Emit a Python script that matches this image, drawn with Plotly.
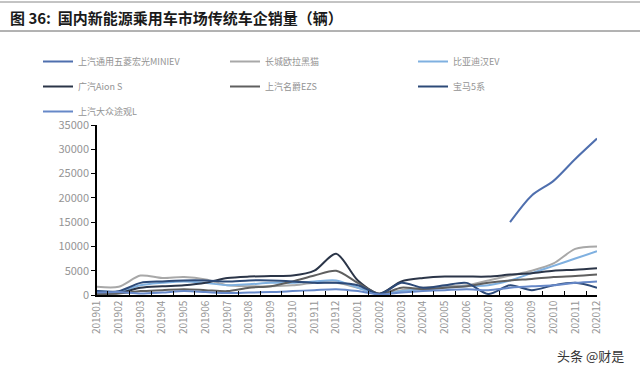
import plotly.graph_objects as go

months = ["201901","201902","201903","201904","201905","201906","201907","201908","201909","201910","201911","201912",
          "202001","202002","202003","202004","202005","202006","202007","202008","202009","202010","202011","202012"]

miniev = [None]*19 + [15000, 20500, 23500, 28000, 32200]
heimao = [1700,1700,4000,3500,3700,3200,2000,1800,1800,2000,2500,2500,1500,200,1000,1500,1800,2000,3000,4000,5000,6500,9500,10000]
han_ev = [800,700,2000,2500,2800,2500,2000,2200,2500,2500,2800,3000,1500,100,800,1200,1500,1800,2000,3000,4500,6000,7500,9000]
aion_s = [500,400,1500,1800,2000,2500,3500,3800,3900,4000,5000,8500,3000,300,2800,3500,3800,3800,3800,4200,4500,5000,5200,5500]
ezs = [200,300,800,1000,1200,1000,800,1500,1800,2800,4000,5000,2500,200,1500,1200,1500,1800,2500,3000,3300,3700,3900,4200]
bmw5 = [800,800,2500,2800,3000,3000,2800,3000,3000,2800,2500,2500,2000,200,2500,1500,2000,2500,200,2000,1000,2000,2500,1500]
tiguan = [500,600,300,500,800,600,400,500,600,800,1000,1200,800,100,500,800,1000,1200,1000,1500,1800,2000,2500,2800]

names = ["上汽通用五菱宏光MINIEV","长城欧拉黑猫","比亚迪汉EV","广汽Aion S","上汽名爵EZS","宝马5系","上汽大众途观L"]
series = [miniev, heimao, han_ev, aion_s, ezs, bmw5, tiguan]
colors = ["#4f6fae","#a8a8a8","#7fb0e0","#2b3548","#5f5f5f","#2d4a78","#6688c8"]
legend_ids = ["legend","legend2","legend3","legend","legend2","legend3","legend"]

fig = go.Figure()
for n, s, c, lg in zip(names, series, colors, legend_ids):
    fig.add_trace(go.Scatter(x=months, y=s, name=n, mode="lines", legend=lg, legendgroup=n,
                             line=dict(color=c, width=2, shape="spline", smoothing=0.8),
                             connectgaps=False))

font_cjk = "Noto Sans CJK SC"
leg_common = dict(orientation="v", xref="container", yref="container", xanchor="left", yanchor="top",
                  y=1 - 47/376, font=dict(size=9, color="#939393", family=font_cjk),
                  tracegroupgap=6, itemwidth=30, bgcolor="rgba(0,0,0,0)")
fig.update_layout(
    width=640, height=376,
    margin=dict(l=97, r=43, t=125, b=81, autoexpand=False),
    paper_bgcolor="white", plot_bgcolor="white",
    font=dict(family=font_cjk, color="#595959", size=10),
    showlegend=True,
    legend=dict(x=38/640, **leg_common),
    legend2=dict(x=225/640, **leg_common),
    legend3=dict(x=413/640, **leg_common),
    xaxis=dict(type="category", showline=True, linecolor="#000000", linewidth=1.5,
               ticks="inside", ticklen=4, tickcolor="#000000", tickson="boundaries",
               tickangle=-90, tickfont=dict(size=10, color="#959595"),
               showgrid=False, zeroline=False),
    yaxis=dict(range=[0, 35000], dtick=5000, tickformat="d", showline=True, linecolor="#000000", linewidth=1.5,
               ticks="outside", ticklen=4, tickcolor="#000000",
               tickfont=dict(size=11, color="#959595"), showgrid=False, zeroline=False),
)

W, H = 500.0, 170.0
def px(x): return (x - 97) / W
def py(y): return (295 - y) / H

fig.add_annotation(text="<b>图 36:  国内新能源乘用车市场传统车企销量（辆）</b>", xref="paper", yref="paper",
                   x=px(8), y=py(17), xanchor="left", yanchor="middle", showarrow=False,
                   font=dict(size=15, color="#1a1a1a", family=font_cjk))
fig.add_annotation(text="头条 @财是", xref="paper", yref="paper",
                   x=px(626), y=py(355), xanchor="right", yanchor="middle", showarrow=False,
                   font=dict(size=13, color="#333333", family=font_cjk))
fig.add_shape(type="line", xref="paper", yref="paper", x0=px(0), x1=px(640), y0=py(2), y1=py(2),
              line=dict(color="#888888", width=1))
fig.add_shape(type="line", xref="paper", yref="paper", x0=px(0), x1=px(640), y0=py(31), y1=py(31),
              line=dict(color="#666666", width=1))

fig.write_html("out.html", config={"displayModeBar": False},
               post_script="document.body.style.margin='0';document.body.style.padding='0';")
